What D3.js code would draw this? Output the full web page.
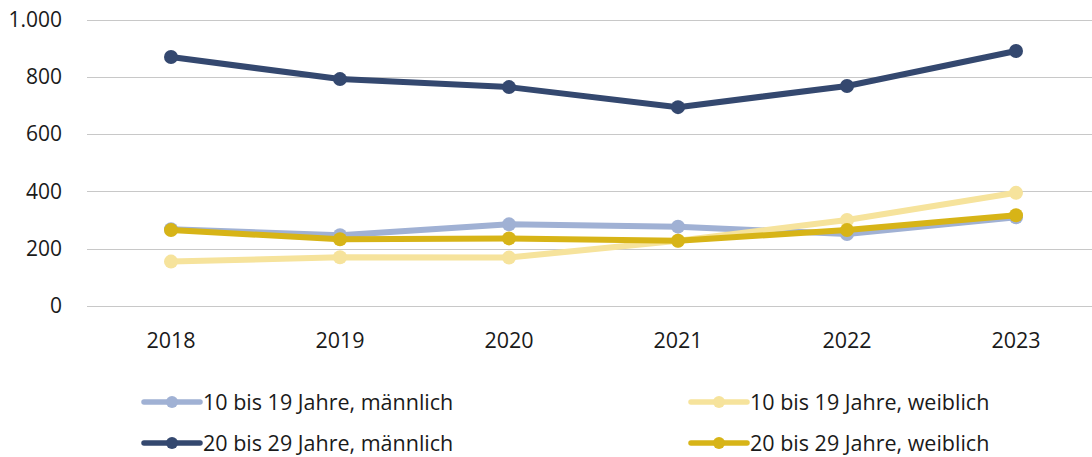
<!DOCTYPE html>
<html><head><meta charset="utf-8">
<script src="https://cdn.jsdelivr.net/npm/d3@7"></script>
<style>body{margin:0;background:#fff}svg{display:block}text{font-family:"Open Sans",sans-serif;fill:#1a1a1a}</style>
</head><body><svg id="c" width="1092" height="457"></svg>
<script>
const years = ["2018","2019","2020","2021","2022","2023"];
const yTicks = [0,200,400,600,800,1000];
const m10 = [268,247,285,277,251,310];
const m20 = [869,792,764,694,768,890];
const w10 = [155,170,169,228,300,395];
const w20 = [265,233,236,228,265,317];
const seriesNames = ["10 bis 19 Jahre, männlich","20 bis 29 Jahre, männlich","10 bis 19 Jahre, weiblich","20 bis 29 Jahre, weiblich"];
const seriesColors = ["#a0b1d4","#34486f","#f6e39c","#d7b417"];

const series = [m10,m20,w10,w20].map((v,i)=>({name:seriesNames[i],color:seriesColors[i],values:v}));
const svg = d3.select("#c");
const x = d3.scalePoint().domain(years).range([171,1016]);
const y = d3.scaleLinear().domain([0,1000]).range([306,19.5]);

svg.append("g").selectAll("line").data(yTicks).join("line")
  .attr("x1",87).attr("x2",1092).attr("y1",d=>Math.round(y(d))+0.5).attr("y2",d=>Math.round(y(d))+0.5)
  .attr("stroke","#c8c8c8").attr("stroke-width",1);

const fmt = d => d3.format(",")(d).replace(/,/g,".");
svg.append("g").selectAll("text").data(yTicks).join("text")
  .attr("x",62).attr("y",d=>y(d)).attr("dy","0.35em").attr("text-anchor","end")
  .attr("font-size",21).text(fmt);

svg.append("g").selectAll("text").data(years).join("text")
  .attr("x",d=>x(d)).attr("y",340).attr("dy","0.35em").attr("text-anchor","middle")
  .attr("font-size",21.5).text(d=>d);

const line = d3.line().x((d,i)=>x(years[i])).y(d=>y(d));
series.forEach(s=>{
  const g = svg.append("g");
  g.append("path").attr("d",line(s.values)).attr("fill","none").attr("stroke",s.color)
    .attr("stroke-width",6).attr("stroke-linejoin","round");
  g.selectAll("circle").data(s.values).join("circle")
    .attr("cx",(d,i)=>x(years[i])).attr("cy",d=>y(d)).attr("r",7).attr("fill",s.color);
});

const legendPos = [[144,402],[144,443],[691,402],[691,443]];
series.forEach((s,i)=>{
  const [lx,ly] = legendPos[i];
  const g = svg.append("g");
  g.append("line").attr("x1",lx).attr("x2",lx+56).attr("y1",ly).attr("y2",ly)
    .attr("stroke",s.color).attr("stroke-width",5.5).attr("stroke-linecap","round");
  g.append("circle").attr("cx",lx+28).attr("cy",ly).attr("r",6).attr("fill",s.color);
  g.append("text").attr("x",lx+59).attr("y",ly).attr("dy","0.35em").attr("font-size",21.5).text(s.name);
});
</script></body></html>
